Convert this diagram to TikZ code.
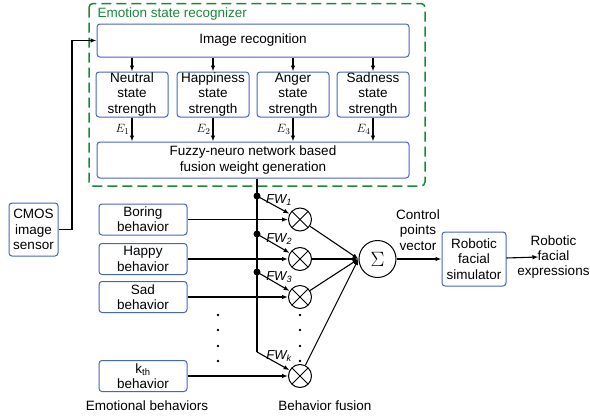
\documentclass[tikz,border=0pt]{standalone}
\usepackage{fontspec}
\setmainfont{Liberation Sans}
\usetikzlibrary{arrows.meta,calc}
\definecolor{boxblue}{RGB}{72,100,190}
\definecolor{recgreen}{RGB}{30,135,55}
\tikzset{
  block/.style={draw=boxblue, line width=1pt, rounded corners=3pt,
    align=center, inner sep=0.5pt},
  statebox/.style={block, minimum width=72pt, minimum height=45pt},
  behavbox/.style={block, minimum width=88pt, minimum height=31pt},
  mult/.style={draw, circle, line width=1pt, minimum size=23pt, inner sep=0pt,
    path picture={
      \draw[line width=0.9pt] ($(path picture bounding box.north west)!0.12!(path picture bounding box.south east)$)
        -- ($(path picture bounding box.north west)!0.88!(path picture bounding box.south east)$);
      \draw[line width=0.9pt] ($(path picture bounding box.north east)!0.12!(path picture bounding box.south west)$)
        -- ($(path picture bounding box.north east)!0.88!(path picture bounding box.south west)$);
    }},
  fw/.style={pos=0.68, above=2pt, inner sep=0pt, font=\fontsize{13}{13}\selectfont\itshape},
  junction/.style={radius=3.5pt},
}

\begin{document}
\begin{tikzpicture}[x=1pt,y=-1pt, font=\fontsize{13.5}{15.3}\selectfont,
  >={Latex[length=6pt,width=4.5pt]}, line width=1.1pt]
  \useasboundingbox (0,0) rectangle (590,418);
  % emotion state recognizer
  \draw[recgreen, line width=1.5pt, dash pattern=on 10pt off 5pt, rounded corners=4pt]
    (89,3.5) rectangle (425,186);
  \node[anchor=west, text=recgreen, inner sep=0pt] (esrlab) at (97,14) {Emotion state recognizer};
  \node[block, minimum width=312pt, minimum height=33pt] (recog) at (253,40.5) {Image recognition};
  \node[statebox] (neutral) at (132,94.5) {Neutral\\state\\strength};
  \node[statebox] (happiness) at (213,94.5) {Happiness\\state\\strength};
  \node[statebox] (anger) at (293,94.5) {Anger\\state\\strength};
  \node[statebox] (sadness) at (373,94.5) {Sadness\\state\\strength};
  \node[block, minimum width=312pt, minimum height=36pt] (fusion) at (253,160)
    {Fuzzy-neuro network based\\fusion weight generation};
  \foreach \s/\e in {neutral/1,happiness/2,anger/3,sadness/4} {
    \draw[->] (recog.south -| \s) -- (\s.north);
    \draw[->] (\s.south) -- node[left, inner sep=2pt, font=\fontsize{13}{13}\selectfont]{$E_\e$} (fusion.north -| \s);
  }
  % camera input
  \node[block, minimum width=49pt, minimum height=53pt] (cmos) at (33.5,229.5) {CMOS\\image\\sensor};
  \coordinate (feed) at (72,40.5);
  \draw[->] (cmos.east) -| (feed) -- (recog.west);
  % emotional behaviors
  \node[behavbox] (boring) at (143,219.5) {Boring\\behavior};
  \node[behavbox] (happy) at (143,259) {Happy\\behavior};
  \node[behavbox] (sad) at (143,297) {Sad\\behavior};
  \node[behavbox] (kth) at (143,376) {k\textsubscript{th}\\behavior};
  \node[inner sep=0pt] (behlab) at (147,406) {Emotional behaviors};
  % behavior fusion
  \node[mult] (m1) at (300,219.5) {};
  \node[mult] (m2) at (300,259) {};
  \node[mult] (m3) at (300,297) {};
  \node[mult] (mk) at (300,376) {};
  \node[inner sep=0pt] (fuslab) at (325,406) {Behavior fusion};
  \foreach \b/\m in {boring/m1,happy/m2,sad/m3,kth/mk}
    \draw[->] (\b) -- (\m);
  \foreach \y in {315,330,346,361} {
    \fill (218,\y) circle[radius=1.3pt];
    \fill (300,\y) circle[radius=1.3pt];
  }
  % fusion weights
  \coordinate (j1) at (257,196);
  \coordinate (j2) at (257,234);
  \coordinate (j3) at (257,272);
  \coordinate (jk) at (257,352);
  \draw (fusion.south -| j1) -- (jk);
  \foreach \j in {j1,j2,j3} \fill (\j) circle[junction];
  \draw[->] (j1) -- node[fw]{FW\textsubscript{1}} (m1);
  \draw[->] (j2) -- node[fw]{FW\textsubscript{2}} (m2);
  \draw[->] (j3) -- node[fw]{FW\textsubscript{3}} (m3);
  \draw[->] (jk) -- node[fw]{FW\textsubscript{k}} (mk);
  % sum and simulator
  \node[circle, draw, line width=1pt, minimum size=37pt, inner sep=0pt,
    font=\fontsize{22}{22}\selectfont] (sigma) at (377.5,259) {$\Sigma$};
  \foreach \m in {m1,m2,m3,mk} \draw[->] (\m) -- (sigma.west);
  \node[align=center, inner sep=0pt] (ctrl) at (418,230) {Control\\points\\vector};
  \node[block, minimum width=64pt, minimum height=54pt] (sim) at (474,259) {Robotic\\facial\\simulator};
  \draw[->] (sigma) -- (sim);
  \node[align=center, inner sep=0pt] (expr) at (553.5,257) {Robotic\\facial\\expressions};
  \draw[->] (sim) -- ($(expr.center)+(-15,0)$);
\end{tikzpicture}
\end{document}
